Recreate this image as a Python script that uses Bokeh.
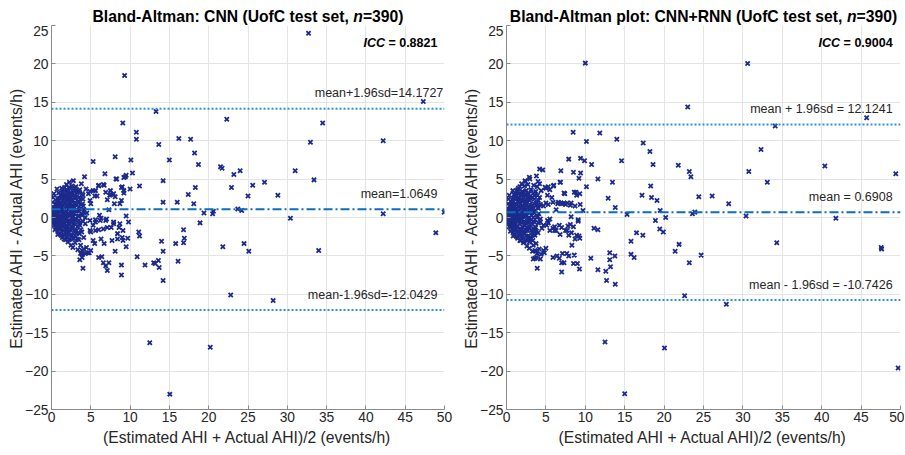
from bokeh.plotting import figure
from bokeh.models import Range1d, FixedTicker, Span, Label
from bokeh.layouts import row, column
from bokeh.embed import file_html
from bokeh.resources import INLINE

# ---------------- data ----------------
# Left panel: CNN
cnn_cluster = [
    (0.05,0.05),(0.1,0.2),(0.12,-0.1),(0.15,0.4),(0.2,-0.3),(0.22,0.6),(0.25,0.1),(0.3,-0.5),(0.3,0.8),(0.35,0.3),
    (0.38,-0.7),(0.4,1.0),(0.42,-0.2),(0.45,0.6),(0.48,-0.9),(0.5,1.2),(0.5,0.0),
    (0.55,-0.5),(0.58,1.4),(0.6,-1.2),(0.62,0.4),(0.65,1.8),(0.68,-0.8),(0.7,0.9),(0.72,-1.5),(0.75,0.1),(0.78,2.0),
    (0.8,-0.3),(0.82,1.3),(0.85,-1.8),(0.88,0.6),(0.9,2.3),(0.92,-1.0),(0.95,1.6),(0.98,-0.1),(1.0,-2.1),(1.0,0.9),
    (1.05,2.5),(1.08,-0.6),(1.1,1.3),(1.12,-1.5),(1.15,0.3),(1.18,2.9),(1.2,-2.3),(1.22,1.8),(1.25,-0.2),(1.28,0.9),
    (1.3,-1.1),(1.32,3.2),(1.35,0.5),(1.38,-2.6),(1.4,2.2),(1.42,-0.5),(1.45,1.5),(1.48,-1.7),(1.5,3.6),(1.5,0.0),
    (1.55,-0.9),(1.58,2.6),(1.6,1.0),(1.62,-2.2),(1.65,0.4),(1.68,3.9),(1.7,-1.4),(1.72,1.9),(1.75,-0.3),(1.78,-2.9),
    (1.8,2.9),(1.82,0.8),(1.85,-1.7),(1.88,1.4),(1.9,4.3),(1.92,-0.6),(1.95,2.3),(1.98,-2.5),(2.0,0.2),(2.0,3.4),
    (2.05,-1.2),(2.08,1.6),(2.1,-3.2),(2.12,2.7),(2.15,0.6),(2.18,-0.4),(2.2,3.9),(2.22,-2.0),(2.25,1.1),(2.28,4.6),
    (2.3,-0.9),(2.32,2.1),(2.35,-2.8),(2.38,0.3),(2.4,3.2),(2.42,-1.6),(2.45,1.8),(2.48,-3.6),(2.5,0.8),(2.5,2.6),
    (2.55,-0.5),(2.58,4.1),(2.6,-2.3),(2.62,1.4),(2.65,3.0),(2.68,-1.3),(2.7,0.1),(2.72,-3.9),(2.75,2.2),(2.78,4.8),
    (2.8,-0.8),(2.82,1.0),(2.85,-2.7),(2.88,3.5),(2.9,0.5),(2.95,-1.7),(2.98,2.5),(3.0,-3.3),
    (3.05,1.7),(3.08,-0.3),(3.1,4.0),(3.15,-2.1),(3.2,0.9),(3.25,2.8),(3.3,-1.2),(3.35,-4.2),(3.4,1.9),(3.45,0.2),
    (3.5,3.4),(3.5,-2.9),
    (3.6,-0.7),(3.65,2.4),(3.7,-3.6),(3.75,1.2),(3.8,4.4),(3.85,-1.9),(3.9,0.4),(3.95,-4.8),(4.0,2.9),(4.1,-2.6),
    (4.15,1.0),(4.2,5.3),(4.3,-0.8),(4.4,3.7),(4.45,-3.9),(4.5,0.6),
]
cnn_blob = [
    (0.7,3.7),(1.3,3.8),(1.9,3.6),(2.4,3.7),(3.0,3.8),(3.6,3.6),
    (0.3,3.1),(0.9,3.2),(1.5,3.3),(2.1,3.1),(2.7,3.2),(3.3,3.3),(3.9,3.1),
    (0.2,2.6),(0.75,2.5),(1.3,2.7),(1.85,2.6),(2.4,2.5),(2.95,2.7),(3.5,2.6),(4.0,2.4),
    (0.15,2.0),(0.7,2.1),(1.25,1.9),(1.8,2.0),(2.35,2.1),(2.9,1.9),(3.45,2.0),(3.95,1.8),
    (0.2,1.4),(0.75,1.5),(1.3,1.3),(1.85,1.4),(2.4,1.5),(2.95,1.3),(3.5,1.4),(4.05,1.5),
    (0.25,0.8),(0.8,0.7),(1.35,0.9),(1.9,0.8),(2.45,0.7),(3.0,0.9),(3.55,0.8),(4.1,0.7),
    (0.1,0.2),(0.6,0.3),(1.15,0.1),(1.7,0.2),(2.25,0.3),(2.8,0.1),(3.35,0.2),(3.9,0.3),
    (0.2,-0.4),(0.75,-0.5),(1.3,-0.3),(1.85,-0.4),(2.4,-0.5),(2.95,-0.3),(3.5,-0.4),(4.0,-0.5),
    (0.3,-1.0),(0.85,-1.1),(1.4,-0.9),(1.95,-1.0),(2.5,-1.1),(3.05,-0.9),(3.6,-1.0),
    (0.45,-1.6),(1.0,-1.5),(1.55,-1.7),(2.1,-1.6),(2.65,-1.5),(3.2,-1.7),(3.75,-1.6),
    (0.8,-2.2),(1.35,-2.3),(1.9,-2.1),(2.45,-2.2),(3.0,-2.3),(3.55,-2.1),
    (1.6,-2.8),(2.2,-2.9),(2.75,-2.7),(3.3,-2.8),
]
cnn_spread = [
    (9.3,18.5),(32.7,24.0),(13.3,13.8),(22.3,12.8),(47.3,15.1),
    (9.07,12.3),(10.8,11.1),(10.8,10.2),(13.65,9.5),(16.2,10.3),(17.7,10.2),(18.2,8.4),(18.7,6.9),(15.0,7.5),
    (10.1,7.5),(8.1,7.9),(5.3,7.3),(6.8,5.7),(10.3,5.8),(8.2,5.0),(9.2,5.2),(9.4,5.3),(11.2,4.1),(10.0,3.7),
    (14.2,4.8),(18.3,3.9),(17.4,3.0),(14.2,2.0),(16.0,2.0),(18.1,1.8),(19.4,0.6),(20.5,0.5),(20.6,0.8),(18.9,-0.7),
    (21.5,6.6),(21.7,6.4),(23.2,5.6),(24.0,6.1),(22.9,3.9),(25.0,2.8),(23.7,1.1),(24.2,0.9),
    (16.8,-1.6),(16.9,-2.7),(16.8,-3.3),(15.8,-3.4),(14.0,-3.1),(14.2,-4.4),(16.1,-5.7),(13.6,-5.6),(13.0,-5.9),
    (13.2,-6.0),(13.7,-6.5),(14.2,-8.2),(11.9,-6.2),(10.9,-5.1),(11.1,-1.9),(11.2,-2.4),(21.8,-3.8),(24.5,-3.4),
    (25.1,-4.4),(22.8,-10.1),(12.5,-16.3),(20.2,-16.9),
    (9.5,0.2),(9.7,-2.7),(9.1,-3.0),(9.5,-3.8),(8.1,-4.4),(8.9,-6.2),(8.9,-7.5),(7.1,-6.9),(7.3,-5.9),(6.6,-5.9),
    (6.9,-6.3),(6.4,-5.1),(5.5,-3.4),(4.0,-6.6),(3.6,-5.5),(4.8,-4.6),(4.6,-4.6),(3.8,-4.6),(4.1,-4.1),(8.4,-2.1),
    (8.6,-1.3),(7.9,-0.8),(7.1,-1.3),(6.9,-0.4),(6.0,-1.6),(6.1,0.3),(5.0,-1.9),(5.3,-1.0),(6.3,-0.1),(5.6,-0.3),
    (7.3,1.0),(8.0,1.8),(8.9,2.2),(9.2,3.2),(9.2,3.5),(9.0,4.0),(8.1,2.7),(7.6,3.0),(7.4,2.9),(7.1,2.3),(6.7,4.2),
    (6.0,4.1),(5.3,3.5),(5.8,2.8),(5.5,2.8),(4.9,3.4),
    (25.6,4.2),(27.1,4.6),(28.8,2.9),(31.0,6.1),(33.4,4.9),(34.5,12.3),(32.95,9.8),(42.2,10.0),(30.4,-0.1),
    (42.2,0.5),(49.96,0.7),(48.9,-2.0),(34.0,-4.3),(28.2,-10.8),(15.05,-23.0),
    (8.3,5.0),(9.5,5.5),(6.0,4.2),(6.6,4.3),(5.6,3.5),(6.9,3.3),(7.5,3.5),(7.9,3.1),(8.9,3.9),(4.7,3.1),(4.9,2.2),
    (5.0,1.8),(8.7,1.8),(4.3,0.0),(4.9,-0.4),(5.6,-0.6),(6.2,-0.4),(7.0,-0.2),(7.9,-0.6),(8.7,-0.8),(9.8,-0.6),
    (4.9,-1.7),(5.6,-1.7),(6.6,-1.5),(7.6,-1.3),(9.1,-1.7),(5.3,-3.0),(6.3,-2.8),(6.7,-3.4),(7.7,-3.0),(8.4,-2.8),
    (9.0,-2.6),(3.9,-4.3),(4.3,-4.7),(5.0,-4.3),(6.0,-5.2),(3.9,-5.2),(3.7,-4.7),
]
cnn_mean, cnn_upper, cnn_lower, cnn_icc = 1.0649, 14.1727, -12.0429, "0.8821"

# Right panel: CNN+RNN
rnn_cluster = [
    (0.05,0.0),(0.1,0.25),(0.12,-0.15),(0.18,0.45),(0.2,-0.35),(0.24,0.7),(0.27,0.05),(0.3,-0.6),(0.33,0.9),(0.36,0.2),
    (0.4,-0.8),(0.42,1.1),(0.44,-0.3),(0.47,0.5),(0.5,-1.0),(0.5,1.3),
    (0.55,-0.4),(0.58,1.6),(0.6,-1.3),(0.63,0.3),(0.66,2.0),(0.69,-0.9),(0.72,0.8),(0.74,-1.6),(0.77,0.0),(0.8,2.2),
    (0.82,-0.4),(0.84,1.2),(0.87,-1.9),(0.9,0.5),(0.92,2.5),(0.94,-1.1),(0.97,1.5),(1.0,-0.2),(1.0,-2.2),
    (1.04,2.7),(1.07,-0.7),(1.1,1.1),(1.13,-1.6),(1.16,0.2),(1.19,3.0),(1.21,-2.4),(1.24,1.7),(1.27,-0.1),(1.3,0.8),
    (1.32,-1.2),(1.34,3.4),(1.37,0.4),(1.4,-2.7),(1.42,2.1),(1.45,-0.6),(1.47,1.4),(1.5,-1.8),(1.5,3.8),
    (1.54,-0.1),(1.57,2.5),(1.6,0.9),(1.63,-2.3),(1.66,0.3),(1.69,4.0),(1.71,-1.5),(1.74,1.8),(1.77,-0.4),(1.8,-3.0),
    (1.82,3.0),(1.85,0.7),(1.87,-1.8),(1.9,1.3),(1.92,4.4),(1.95,-0.7),(1.97,2.2),(2.0,-2.6),
    (2.03,0.1),(2.06,3.3),(2.09,-1.3),(2.12,1.5),(2.15,-3.3),(2.18,2.6),(2.2,0.5),(2.23,-0.5),(2.26,4.1),(2.29,-2.1),
    (2.32,1.0),(2.35,4.8),(2.38,-1.0),(2.41,2.0),(2.44,-2.9),(2.47,0.2),(2.5,3.0),
    (2.53,-1.7),(2.56,1.7),(2.6,-3.7),(2.63,0.7),(2.66,2.5),(2.69,-0.6),(2.72,4.3),(2.75,-2.4),(2.78,1.3),(2.81,3.1),
    (2.84,-1.4),(2.87,0.0),(2.9,-4.0),(2.93,2.2),(2.96,5.0),(3.0,-0.9),
    (3.04,1.0),(3.08,-2.8),(3.12,3.6),(3.16,0.3),(3.2,-1.6),(3.25,2.6),(3.3,-4.4),(3.35,1.6),(3.4,-0.5),(3.45,4.2),
    (3.5,-2.2),
    (3.55,0.8),(3.6,2.9),(3.7,-1.3),(3.75,-3.4),(3.8,1.9),(3.85,0.0),(3.9,4.0),(4.0,-2.0),(4.05,1.2),(4.15,-4.1),
    (4.2,2.6),(4.3,-0.6),(4.4,3.5),(4.5,-1.4),
]
rnn_blob = [
    (0.8,3.5),(1.4,3.6),(2.0,3.4),(2.5,3.5),(3.1,3.6),(3.7,3.4),
    (0.35,2.9),(0.95,3.0),(1.55,3.1),(2.15,2.9),(2.75,3.0),(3.35,3.1),(3.95,2.9),
    (0.25,2.4),(0.8,2.3),(1.35,2.5),(1.9,2.4),(2.45,2.3),(3.0,2.5),(3.55,2.4),(4.05,2.2),
    (0.2,1.8),(0.75,1.9),(1.3,1.7),(1.85,1.8),(2.4,1.9),(2.95,1.7),(3.5,1.8),(4.0,1.6),
    (0.15,1.2),(0.7,1.3),(1.25,1.1),(1.8,1.2),(2.35,1.3),(2.9,1.1),(3.45,1.2),(4.0,1.3),
    (0.25,0.6),(0.8,0.5),(1.35,0.7),(1.9,0.6),(2.45,0.5),(3.0,0.7),(3.55,0.6),(4.1,0.5),
    (0.1,0.0),(0.65,0.1),(1.2,-0.1),(1.75,0.0),(2.3,0.1),(2.85,-0.1),(3.4,0.0),(3.95,0.1),
    (0.25,-0.6),(0.8,-0.7),(1.35,-0.5),(1.9,-0.6),(2.45,-0.7),(3.0,-0.5),(3.55,-0.6),(4.05,-0.7),
    (0.35,-1.2),(0.9,-1.3),(1.45,-1.1),(2.0,-1.2),(2.55,-1.3),(3.1,-1.1),(3.65,-1.2),
    (0.5,-1.8),(1.05,-1.7),(1.6,-1.9),(2.15,-1.8),(2.7,-1.7),(3.25,-1.9),(3.8,-1.8),
    (0.85,-2.4),(1.4,-2.5),(1.95,-2.3),(2.5,-2.4),(3.05,-2.5),(3.6,-2.3),
    (1.7,-3.0),(2.25,-3.1),(2.8,-2.9),(3.35,-3.0),
]
rnn_spread = [
    (10.0,20.1),(30.6,20.05),(23.0,14.4),(45.7,13.0),(34.1,11.9),(32.3,8.85),(40.4,6.7),(49.4,5.7),(30.75,6.0),(33.1,4.6),
    (8.46,11.1),(11.84,11.0),(14.0,10.2),(10.15,9.9),(17.35,9.7),(18.2,8.6),(18.6,6.9),(21.8,6.8),(23.2,6.0),(23.4,5.3),
    (14.6,7.4),(10.8,6.9),(9.4,7.7),(9.9,7.4),(7.9,7.6),(8.5,5.9),(9.4,5.8),(9.2,5.1),(11.6,5.0),(13.45,4.6),
    (10.15,4.0),(6.9,6.1),(6.85,4.6),(4.2,6.3),(4.6,6.2),(5.96,4.1),(7.4,3.1),(8.8,3.3),(8.9,2.9),(9.35,1.7),
    (12.9,2.5),(13.8,1.3),(9.7,0.9),(9.1,-0.3),(8.2,0.1),(15.3,0.4),(17.2,2.9),(18.3,4.1),(18.4,2.6),(19.1,2.2),
    (19.5,0.9),(18.9,-0.4),(20.2,0.0),(19.45,-1.5),(19.9,-1.9),(16.5,-2.0),(17.3,-2.3),(15.8,-3.1),(15.8,-4.8),
    (16.2,-5.2),(11.1,-1.4),(11.6,-1.6),(10.7,-5.3),(11.6,-6.8),(12.6,-7.0),(13.2,-6.4),(13.1,-5.5),(13.1,-4.6),
    (13.75,-5.0),(12.7,-8.2),(13.8,-8.7),(9.26,-6.7),(9.0,-6.0),(8.5,-6.0),(8.6,-4.9),(7.65,-4.7),(8.3,-3.6),
    (9.2,-2.4),(9.3,-2.7),(8.25,-2.0),(8.5,-1.2),(7.8,-1.1),(7.0,-1.3),(6.8,-2.2),(7.0,-5.9),(7.3,-5.9),(7.0,-7.1),
    (6.4,-5.0),(6.7,-5.3),(3.9,-6.6),(3.6,-5.3),(3.8,-4.4),(4.4,-4.8),(4.8,-4.6),(5.0,-4.0),(5.9,-1.4),(6.1,-1.2),
    (6.3,1.0),(6.9,1.9),(7.3,1.9),(7.7,1.9),(8.2,1.9),(6.6,2.0),(5.0,1.9),(5.75,2.6),(5.0,3.8),(5.5,3.6),(5.5,-0.2),
    (5.2,-0.4),(5.3,-0.7),
    (24.4,2.7),(26.1,2.8),(28.2,1.8),(23.6,0.5),(23.9,0.7),(30.4,0.2),(41.8,-0.1),(21.9,-3.5),(21.4,-4.4),(24.7,-4.9),
    (23.2,-5.9),(34.3,-3.3),(47.55,-3.9),(47.6,-4.1),(22.6,-10.2),(27.9,-11.3),(20.05,-17.0),(12.5,-16.2),
    (15.0,-22.95),(49.7,-19.6),
    (2.9,5.25),(2.4,4.7),(3.8,5.4),(4.0,4.7),(4.2,4.4),(4.9,3.95),(5.3,4.0),(6.0,4.2),(5.2,2.9),(6.8,4.6),(7.3,3.2),
    (8.6,3.3),(9.3,3.1),
    (4.3,-0.2),(5.1,-1.0),(4.7,-1.0),(5.5,-1.7),(6.1,-1.7),(6.7,-1.0),(7.5,-1.7),(8.1,-0.9),(9.1,-0.5),(6.3,-1.7),
    (7.7,-1.7),(7.9,-2.3),(8.9,-2.3),(8.7,-2.8),(3.6,-1.7),(3.3,-2.3),(2.8,-2.8),(2.9,-3.2),(3.4,-3.6),(3.6,-4.3),
    (3.9,-4.7),(4.7,-4.3),(3.8,-5.2),(4.3,-5.4),(5.9,-5.2),(7.1,-4.7),(7.9,-5.0),(3.4,-5.4),
    (4.3,1.7),(4.7,1.5),(5.3,1.7),(5.9,2.0),(6.5,1.8),(7.1,1.8),(7.5,1.7),(8.1,1.6),(8.7,1.5),
]
rnn_mean, rnn_upper, rnn_lower, rnn_icc = 0.6908, 12.1241, -10.7426, "0.9004"

x_ticks = list(range(0, 51, 5))
y_ticks = list(range(-25, 26, 5))

# ---------------- styling ----------------
FONT = "Liberation Sans"
TXT = "#262626"
MARK = "#1b2a8c"
MEAN_C = "#0a6fbd"
LIM_C = "#2b8fd8"
TOP_H = 25
LAB_UP = 2.0      # label baseline above its line (data units)

BOLD_W = {' ':278,'(':333,')':333,'+':584,',':278,'-':333,'.':278,'/':278,':':333,'=':584,
          'A':722,'B':722,'C':722,'I':278,'N':722,'R':722,'U':722,
          'a':556,'d':611,'e':556,'f':333,'l':278,'m':889,'n':611,'o':611,'p':611,'s':556,'t':333}
for dch in "0123456789":
    BOLD_W[dch] = 556


def bw(s, size):
    return sum(BOLD_W[c] for c in s) / 1000.0 * size


def make_title(title_pre, width, border_left, border_right):
    t = figure(width=width, height=TOP_H, output_backend="svg", toolbar_location=None, title=None,
               x_range=Range1d(0, 50), y_range=Range1d(0, TOP_H),
               min_border_left=border_left, min_border_right=border_right,
               min_border_top=0, min_border_bottom=0)
    t.axis.visible = False
    t.grid.visible = False
    t.outline_line_color = None
    t.background_fill_color = "white"
    t.border_fill_color = "white"
    tsz = 15.7
    full = title_pre + " n=390)"
    tot = bw(full, tsz)
    x0 = -tot / 2.0
    tkw = dict(x=25, y=9.0, text_font=FONT, text_font_size=f"{tsz}px", text_color="black",
               text_align="left", text_baseline="alphabetic")
    t.add_layout(Label(x_offset=x0, text=title_pre, text_font_style="bold", **tkw))
    xn = x0 + bw(title_pre + " ", tsz)
    t.add_layout(Label(x_offset=xn, text="n", text_font_style="bold italic", **tkw))
    t.add_layout(Label(x_offset=xn + bw("n", tsz), text="=390)", text_font_style="bold", **tkw))
    return t


def make_panel(points, mean, upper, lower, icc, labels,
               width, border_left, border_right, label_x, top_label_x):
    p = figure(width=width, height=452 - TOP_H, output_backend="svg", toolbar_location=None,
               title=None,
               x_range=Range1d(0, 50), y_range=Range1d(-25, 25),
               min_border_left=border_left, min_border_right=border_right,
               min_border_top=0, min_border_bottom=43)
    p.outline_line_color = None
    p.background_fill_color = "white"
    p.border_fill_color = "white"

    p.xaxis.ticker = FixedTicker(ticks=x_ticks)
    p.yaxis.ticker = FixedTicker(ticks=y_ticks)
    for ax in (p.xaxis, p.yaxis):
        ax.axis_line_color = "#8a8a8a"
        ax.major_tick_line_color = "#8a8a8a"
        ax.major_tick_in = 4
        ax.major_tick_out = 0
        ax.minor_tick_line_color = None
        ax.major_label_text_font = FONT
        ax.major_label_text_font_size = "13.8px"
        ax.major_label_text_color = TXT
        ax.axis_label_text_font = FONT
        ax.axis_label_text_font_size = "15.7px"
        ax.axis_label_text_font_style = "normal"
        ax.axis_label_text_color = TXT
    p.xaxis.major_label_standoff = 2
    p.xaxis.axis_label_standoff = 4
    p.yaxis.major_label_standoff = 3
    p.yaxis.axis_label_standoff = -3
    p.xaxis.axis_label = "(Estimated AHI + Actual AHI)/2 (events/h)"
    p.yaxis.axis_label = "Estimated AHI - Actual AHI (events/h)"
    p.grid.grid_line_color = "#e4e4e4"
    p.grid.grid_line_width = 1

    xs = [pt[0] for pt in points]
    ys = [pt[1] for pt in points]
    p.scatter(xs, ys, marker="x", size=6, line_width=1.8, line_color=MARK)

    p.add_layout(Span(location=upper, dimension="width", line_color=LIM_C,
                      line_width=2, line_dash="2 2"))
    p.add_layout(Span(location=lower, dimension="width", line_color=LIM_C,
                      line_width=2, line_dash="2 2"))
    p.add_layout(Span(location=mean, dimension="width", line_color=MEAN_C,
                      line_width=2, line_dash="9 3 2 3"))

    lab_kw = dict(text_font=FONT, text_font_size="12.5px", text_color=TXT,
                  text_align="right", text_baseline="alphabetic")
    p.add_layout(Label(x=top_label_x, y=upper + LAB_UP, text=labels[0], **lab_kw))
    p.add_layout(Label(x=label_x, y=mean + LAB_UP, text=labels[1], **lab_kw))
    p.add_layout(Label(x=label_x, y=lower + LAB_UP, text=labels[2], **lab_kw))

    # ICC text (italic "ICC", bold)
    isz = 12.5
    itot = bw("ICC = " + icc, isz)
    p.add_layout(Label(x=label_x, y=22.7, x_offset=-itot, text="ICC", text_font=FONT,
                       text_font_size=f"{isz}px", text_font_style="bold italic",
                       text_color="black", text_align="left", text_baseline="alphabetic"))
    p.add_layout(Label(x=label_x, y=22.7, x_offset=-itot + bw("ICC ", isz), text="= " + icc,
                       text_font=FONT, text_font_size=f"{isz}px", text_font_style="bold",
                       text_color="black", text_align="left", text_baseline="alphabetic"))
    return p


t1 = make_title("Bland-Altman: CNN (UofC test set,", 453, 51, 9)
p1 = make_panel(cnn_cluster + cnn_blob + cnn_spread, cnn_mean, cnn_upper, cnn_lower, cnn_icc,
                ["mean+1.96sd=%.4f" % cnn_upper, "mean=%.4f" % cnn_mean, "mean-1.96sd=%.4f" % cnn_lower],
                width=453, border_left=51, border_right=9, label_x=49.1, top_label_x=49.85)
t2 = make_title("Bland-Altman plot: CNN+RNN (UofC test set,", 451, 53, 4)
p2 = make_panel(rnn_cluster + rnn_blob + rnn_spread, rnn_mean, rnn_upper, rnn_lower, rnn_icc,
                ["mean + 1.96sd = %.4f" % rnn_upper, "mean = %.4f" % rnn_mean,
                 "mean - 1.96sd = %.4f" % rnn_lower],
                width=451, border_left=53, border_right=4, label_x=49.0, top_label_x=49.0)

layout = row(column(t1, p1), column(t2, p2))
open("out.html", "w").write(file_html(layout, INLINE))
